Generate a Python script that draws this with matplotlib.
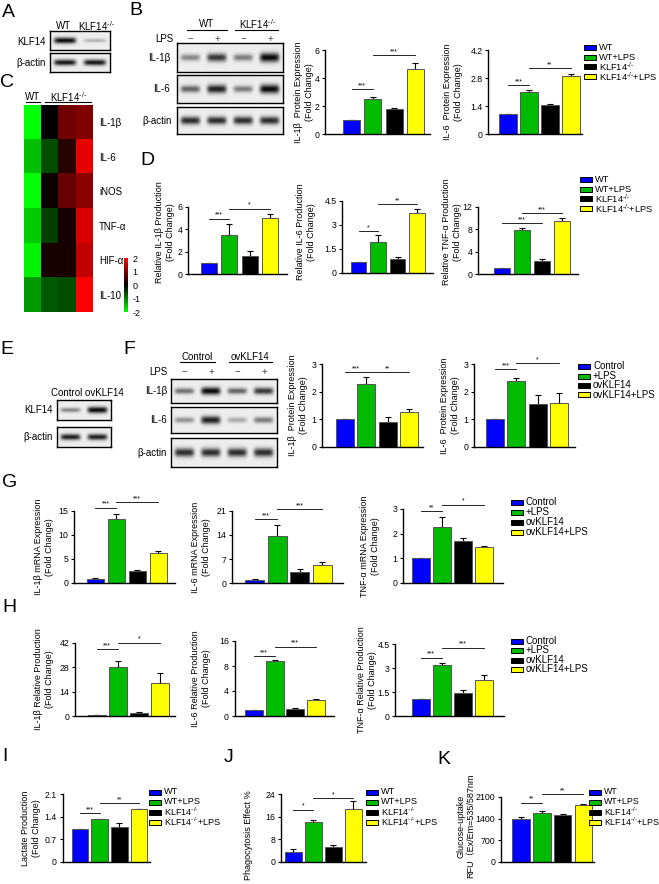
import numpy as np
import matplotlib
matplotlib.use('Agg')
import matplotlib.pyplot as plt
from matplotlib.colors import LinearSegmentedColormap
from matplotlib.patches import Rectangle

plt.rcParams['font.family'] = ['Liberation Sans', 'DejaVu Sans', 'Noto Sans CJK SC']
plt.rcParams['mathtext.fontset'] = 'custom'
plt.rcParams['mathtext.rm'] = 'Liberation Sans'
plt.rcParams['mathtext.default'] = 'regular'

W, H = 659, 884
fig = plt.figure(figsize=(W / 100, H / 100), dpi=100)

COLORS = ['#0000FF', '#00BB00', '#000000', '#FFFF00']
KO = 'KLF14$^{‐/‐}$'
ko_groups = ['WT', 'WT+LPS', KO, KO + '+LPS']
ov_groups = ['Control', '+LPS', 'ovKLF14', 'ovKLF14+LPS']

# ---------------- data ----------------
# blots (relative band intensity per lane)
blotA_klf14 = [1.0, 0.25]
blotA_actin = [0.95, 0.95]
blotB_il1b = [0.45, 0.8, 0.5, 1.0]
blotB_il6 = [0.6, 0.9, 0.5, 1.0]
blotB_actin = [0.85, 0.85, 0.85, 0.85]
blotE_klf14 = [0.45, 1.0]
blotE_actin = [0.9, 0.9]
blotF_il1b = [0.55, 1.0, 0.6, 0.8]
blotF_il6 = [0.4, 0.9, 0.3, 0.5]
blotF_actin = [0.85, 0.85, 0.85, 0.85]

# heatmap C
heat_rows = ['IL-1β', 'IL-6', 'iNOS', 'TNF-α', 'HIF-α', 'IL-10']
heat_vals = [[-2.0, 0.0, 0.9, 1.0],
             [-1.5, -0.6, 0.3, 1.8],
             [-2.0, 0.1, 0.8, 1.1],
             [-1.6, -0.5, 0.2, 1.7],
             [-1.9, 0.2, 0.2, 1.5],
             [-1.2, -0.7, -0.6, 2.0]]

# B
B1_vals, B1_errs = [1.0, 2.5, 1.8, 4.65], [0.03, 0.12, 0.06, 0.4]
B2_vals, B2_errs = [1.0, 2.1, 1.45, 2.9], [0.02, 0.08, 0.04, 0.12]
# D
D1_vals, D1_errs = [1.0, 3.45, 1.6, 5.0], [0.0, 1.0, 0.5, 0.4]
D2_vals, D2_errs = [0.7, 1.92, 0.9, 3.72], [0.0, 0.45, 0.07, 0.3]
D3_vals, D3_errs = [1.0, 7.8, 2.3, 9.5], [0.0, 0.5, 0.3, 0.5]
# F
F1_vals, F1_errs = [1.0, 2.28, 0.9, 1.25], [0.0, 0.25, 0.17, 0.12]
F2_vals, F2_errs = [1.0, 2.4, 1.54, 1.58], [0.0, 0.08, 0.34, 0.38]
# G
G1_vals, G1_errs = [0.8, 13.2, 2.5, 6.1], [0.25, 1.1, 0.15, 0.6]
G2_vals, G2_errs = [1.0, 13.8, 3.2, 5.3], [0.2, 3.1, 0.8, 0.9]
G3_vals, G3_errs = [1.0, 2.28, 1.68, 1.45], [0.0, 0.38, 0.14, 0.04]
# H
H1_vals, H1_errs = [0.6, 28.0, 1.9, 18.8], [0.1, 3.5, 0.4, 5.8]
H2_vals, H2_errs = [0.96, 8.8, 1.2, 2.6], [0.05, 0.12, 0.1, 0.08]
H3_vals, H3_errs = [1.05, 3.18, 1.42, 2.22], [0.0, 0.15, 0.22, 0.37]
# I, J, K
I_vals, I_errs = [1.0, 1.32, 1.07, 1.63], [0.0, 0.02, 0.12, 0.02]
J_vals, J_errs = [3.5, 14.0, 5.2, 18.8], [1.0, 0.9, 0.8, 2.8]
K_vals, K_errs = [1390, 1580, 1530, 1840], [60, 70, 20, 25]


# ---------------- helpers ----------------
def add_ax(x0, y0, x1, y1):
    return fig.add_axes([x0 / W, 1 - y1 / H, (x1 - x0) / W, (y1 - y0) / H])


def ftext(x, y, s, **kw):
    return fig.text(x / W, 1 - y / H, s, **kw)


def fline(x0, x1, y, lw=0.8):
    fig.add_artist(plt.Line2D([x0 / W, x1 / W], [1 - y / H, 1 - y / H], color='black', lw=lw))


def letter(x, y, s):
    ftext(x, y, s, fontsize=14, va='top', ha='left')


def blot(x0, y0, x1, y1, intens):
    ax = add_ax(x0, y0, x1, y1)
    n = len(intens)
    xs = np.linspace(0, n, 240)
    ys = np.linspace(-1, 1, 50)
    img = np.zeros((50, 240))
    for k, a in enumerate(intens):
        px = np.exp(-((xs - (k + 0.5)) / 0.37) ** 6)
        py = np.exp(-(ys / (0.16 + 0.16 * a)) ** 2)
        img += a * np.outer(py, px)
    img = np.clip(img, 0, 1)
    ax.imshow(0.93 - 0.9 * img, cmap='gray', vmin=0, vmax=1, aspect='auto',
              extent=[0, n, -1, 1], interpolation='bilinear')
    ax.set_xticks([])
    ax.set_yticks([])
    for s in ax.spines.values():
        s.set_linewidth(1.0)
    return ax


def legend(x, ys, labels, fs=7):
    for y, lab, c in zip(ys, labels, COLORS):
        fig.add_artist(Rectangle((x / W, 1 - (y + 2.5) / H), 12 / W, 5 / H,
                                 transform=fig.transFigure, facecolor=c,
                                 edgecolor='black', lw=0.7))
        ftext(x + 15, y, lab, va='center', ha='left', fontsize=fs)


def bar_chart(axis_x, end_x, y0, ytop, ymax, c0, pitch, bw, vals, errs,
              ticks, ticklabels, sigs, ylabel, label_x, label_y=None, label_fs=6.5):
    ax = add_ax(axis_x, ytop, end_x, y0)
    ax.set_ylim(0, ymax)
    ax.set_xlim((axis_x - c0) / pitch, (end_x - c0) / pitch)
    x = np.arange(len(vals))
    ax.errorbar(x, vals, yerr=[np.zeros(len(vals)), errs], fmt='none', ecolor='black',
                elinewidth=0.8, capsize=2.3, capthick=0.8, zorder=1)
    ax.bar(x, vals, width=bw / pitch, color=COLORS, edgecolor='#555555', linewidth=0.7, zorder=2)
    for s in ['top', 'right']:
        ax.spines[s].set_visible(False)
    for s in ['left', 'bottom']:
        ax.spines[s].set_linewidth(1.0)
    ax.set_xticks([])
    ax.set_yticks(ticks)
    ax.set_yticklabels(ticklabels)
    ax.tick_params(axis='y', length=2.5, width=0.8, labelsize=6.3, pad=1.5)
    for i, j, yv, t in sigs:
        ax.plot([i, j], [yv, yv], color='black', lw=0.6, clip_on=False)
        ax.text((i + j) / 2, yv, t, ha='center', va='bottom', fontsize=5, clip_on=False)
    if label_y is None:
        label_y = (y0 + ytop) / 2
    ftext(label_x, label_y, ylabel, rotation=90, ha='center', va='center',
          fontsize=label_fs, multialignment='center', linespacing=1.15)
    return ax


# ---------------- A ----------------
letter(2, 4, 'A')
ftext(64, 26, 'WT', ha='center', va='center', fontsize=7)
ftext(96, 26, KO, ha='center', va='center', fontsize=7)
blot(50, 31, 110, 50, blotA_klf14)
blot(50, 53, 110, 72, blotA_actin)
ftext(46, 42, 'KLF14', ha='right', va='center', fontsize=7)
ftext(46, 63, 'β-actin', ha='right', va='center', fontsize=7)

# ---------------- B ----------------
letter(129, 2, 'B')
ftext(207, 24, 'WT', ha='center', va='center', fontsize=7)
fline(187, 227, 30)
ftext(257, 24, KO, ha='center', va='center', fontsize=7)
fline(235, 278, 30)
ftext(173, 39, 'LPS', ha='right', va='center', fontsize=7)
for xx, s in zip([190, 217, 243, 270], ['−', '+', '−', '+']):
    ftext(xx, 39, s, ha='center', va='center', fontsize=7, color='#444444')
blot(177, 43, 283, 72, blotB_il1b)
blot(177, 75, 283, 103, blotB_il6)
blot(177, 107, 283, 134, blotB_actin)
ftext(170, 58, 'IL-1β', ha='right', va='center', fontsize=7)
ftext(170, 89, 'IL-6', ha='right', va='center', fontsize=7)
ftext(172, 121, 'β-actin', ha='right', va='center', fontsize=7)

bar_chart(325, 430, 134, 50, 6, 351.5, 21.3, 17, B1_vals, B1_errs,
          [0, 2, 4, 6], ['0', '2', '4', '6'],
          [(0, 1, 3.2, '***'), (1, 3, 5.65, '***')],
          'IL-1β  Protein Expression\n(Fold Change)', 304)
bar_chart(488, 582, 134, 50, 4.2, 508, 21, 18, B2_vals, B2_errs,
          [0, 1.4, 2.8, 4.2], ['0', '1.4', '2.8', '4.2'],
          [(0, 1, 2.45, '***'), (1, 3, 3.3, '**')],
          'IL-6  Protein Expression\n(Fold Change)', 453)
legend(584, [47.5, 57, 66.5, 76.5], ko_groups, fs=6.7)

# ---------------- C ----------------
letter(0, 74, 'C')
ftext(33, 97, 'WT', ha='center', va='center', fontsize=7)
fline(26, 40, 102)
ftext(68, 97, KO, ha='center', va='center', fontsize=7)
fline(45, 91, 102)
cmap = LinearSegmentedColormap.from_list('gkr', ['#00FF00', '#000000', '#FF0000'])
axh = add_ax(24, 105, 92, 312)
im = axh.imshow(np.array(heat_vals), cmap=cmap, vmin=-2, vmax=2, aspect='auto')
axh.set_xticks([])
axh.set_yticks(range(len(heat_rows)))
axh.set_yticklabels(heat_rows)
axh.yaxis.tick_right()
axh.tick_params(axis='y', length=0, pad=5, labelsize=7)
for s in axh.spines.values():
    s.set_visible(False)
cax = add_ax(124, 258, 128, 312)
cb = fig.colorbar(im, cax=cax, ticks=[-2, -1, 0, 1, 2])
cb.ax.set_yticklabels(['-2', '-1', '0', '1', '2'])
cb.outline.set_visible(False)
cax.tick_params(length=0, labelsize=6.5, pad=3)

# ---------------- D ----------------
letter(140, 152, 'D')
bar_chart(188, 287, 274, 207, 6, 209, 20.3, 16, D1_vals, D1_errs,
          [0, 2, 4, 6], ['0', '2', '4', '6'],
          [(0, 1, 4.95, '***'), (1, 3, 5.85, '*')],
          'Relative IL-1β Production\n(Fold Change)', 165, 232)
bar_chart(342, 433, 273, 201, 4.5, 358.5, 19.5, 15.5, D2_vals, D2_errs,
          [0, 1.5, 3, 4.5], ['0', '1.5', '3', '4.5'],
          [(0, 1, 2.6, '*'), (1, 3, 4.3, '**')],
          'Relative IL-6 Production\n(Fold Change)', 306, 232)
bar_chart(478, 578, 274, 207, 12, 502, 20, 16, D3_vals, D3_errs,
          [0, 4, 8, 12], ['0', '4', '8', '12'],
          [(0, 2, 9.1, '***'), (1, 3, 10.9, '***')],
          'Relative TNF-α Production\n(Fold Change)', 452, 232)
legend(580, [179.5, 189, 198.5, 208.5], ko_groups, fs=6.7)

# ---------------- E ----------------
letter(0, 341, 'E')
ftext(51, 393, 'Control ovKLF14', ha='left', va='center', fontsize=7)
blot(57, 400, 111, 420, blotE_klf14)
blot(57, 427, 111, 447, blotE_actin)
ftext(53, 410, 'KLF14', ha='right', va='center', fontsize=7)
ftext(53, 437, 'β-actin', ha='right', va='center', fontsize=7)

# ---------------- F ----------------
letter(123, 341, 'F')
ftext(197, 357, 'Control', ha='center', va='center', fontsize=7)
fline(180, 215, 362)
ftext(250, 357, 'ovKLF14', ha='center', va='center', fontsize=7)
fline(229, 272, 362)
ftext(167, 372, 'LPS', ha='right', va='center', fontsize=7)
for xx, s in zip([184, 211, 237, 264], ['−', '+', '−', '+']):
    ftext(xx, 372, s, ha='center', va='center', fontsize=7, color='#444444')
blot(171, 379, 277, 403, blotF_il1b)
blot(171, 407, 277, 433, blotF_il6)
blot(171, 438, 277, 467, blotF_actin)
ftext(167, 391, 'IL-1β', ha='right', va='center', fontsize=7)
ftext(167, 420, 'IL-6', ha='right', va='center', fontsize=7)
ftext(167, 453, 'β-actin', ha='right', va='center', fontsize=7)

bar_chart(322, 423, 447, 364, 3, 345, 21.3, 18, F1_vals, F1_errs,
          [0, 1, 2, 3], ['0', '1', '2', '3'],
          [(0, 1, 2.7, '***'), (1, 3, 2.7, '**')],
          'IL-1β  Protein Expression\n(Fold Change)', 298)
bar_chart(474, 575, 447, 364, 3, 495, 21.3, 18, F2_vals, F2_errs,
          [0, 1, 2, 3], ['0', '1', '2', '3'],
          [(0, 1, 2.82, '***'), (1, 3, 3.03, '*')],
          'IL-6  Protein Expression\n(Fold Change)', 450)
legend(578, [366, 376, 385, 395], ov_groups)

# ---------------- G ----------------
letter(2, 474, 'G')
bar_chart(74, 175, 582.7, 510.7, 15, 95, 21, 17, G1_vals, G1_errs,
          [0, 5, 10, 15], ['0', '5', '10', '15'],
          [(0, 1, 15.6, '***'), (1, 3, 16.8, '***')],
          'IL-1β mRNA Expression\n(Fold Change)', 44)
bar_chart(232, 343, 583.3, 510.7, 21, 254.5, 22.5, 19, G2_vals, G2_errs,
          [0, 7, 14, 21], ['0', '7', '14', '21'],
          [(0, 1, 18.6, '***'), (1, 3, 21.5, '***')],
          'IL-6 mRNA Expression\n(Fold Change)', 201)
bar_chart(403, 503, 582.7, 509, 3, 421, 21, 18, G3_vals, G3_errs,
          [0, 1, 2, 3], ['0', '1', '2', '3'],
          [(0, 1, 2.9, '**'), (1, 3, 3.18, '*')],
          'TNF-α mRNA Expression\n(Fold Change)', 370)
legend(511, [502, 512, 522, 532], ov_groups)

# ---------------- H ----------------
letter(2, 599, 'H')
bar_chart(75, 175, 716, 643, 42, 96.5, 21.3, 18, H1_vals, H1_errs,
          [0, 14, 28, 42], ['0', '14', '28', '42'],
          [(0, 1, 38.5, '***'), (1, 3, 42.2, '*')],
          'IL-1β Relative Production\n(Fold Change)', 44)
bar_chart(234.5, 334, 716, 641, 12, 254, 20.5, 18, H2_vals, H2_errs,
          [0, 4, 8, 12], ['0', '4', '8', '16'],
          [(0, 1, 9.6, '***'), (1, 3, 11.1, '***')],
          'IL-6 Relative Production\n(Fold Change)', 201)
bar_chart(395, 504, 716, 644, 4.5, 420.5, 21, 18, H3_vals, H3_errs,
          [0, 1.5, 3, 4.5], ['0', '1.5', '3', '4.5'],
          [(0, 1, 3.64, '***'), (1, 3, 4.27, '***')],
          'TNF-α Relative Production\n(Fold Change)', 367)
legend(511, [641, 650, 660, 669], ov_groups)

# ---------------- I ----------------
letter(2, 748, 'I')
bar_chart(62.5, 150, 861.7, 794, 2.1, 80, 19.7, 16.5, I_vals, I_errs,
          [0, 0.7, 1.4, 2.1], ['0', '0.7', '1.4', '2.1'],
          [(0, 1, 1.5, '***'), (1, 3, 1.81, '**')],
          'Lactate Production\n(Fold Change)', 31)
legend(149, [792, 802, 812, 822], ko_groups, fs=6.6)

# ---------------- J ----------------
letter(224, 749, 'J')
bar_chart(281, 366, 861.7, 794, 24, 293, 20, 17, J_vals, J_errs,
          [0, 8, 16, 24], ['0', '8', '16', '24'],
          [(0, 1, 18.5, '*'), (1, 3, 22.5, '*')],
          'Phagocytosis Effect %', 248, 835)
legend(366, [792, 802, 812, 822], ko_groups, fs=6.6)

# ---------------- K ----------------
letter(437, 751, 'K')
bar_chart(500.6, 594, 861.7, 797, 2100, 521, 20.8, 17.5, K_vals, K_errs,
          [0, 700, 1400, 2100], ['0', '700', '1400', '2100'],
          [(0, 1, 1915, '**'), (1, 3, 2197, '**')],
          'Glucose-uptake\nRFU（Ex/Em=535/587nm', 466, 826)
legend(589, [792, 802, 812, 822], ko_groups, fs=6.4)

fig.savefig('out.png', dpi=100)
